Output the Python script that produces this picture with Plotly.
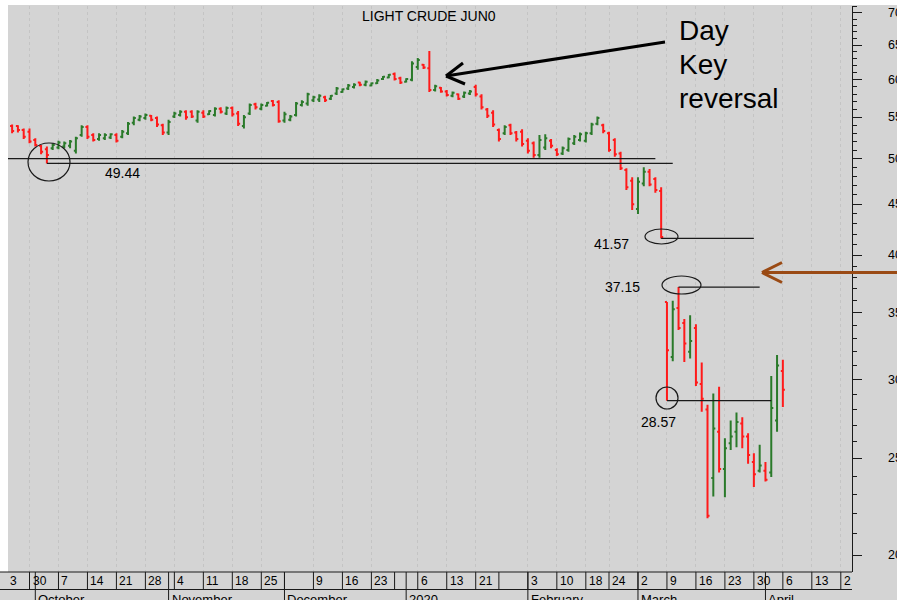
import math
import pandas as pd
import plotly.graph_objects as go

# ---------------- data ----------------
TITLE = "LIGHT CRUDE JUN0"
HOLIDAYS = ["2019-11-28", "2019-12-25", "2020-01-01", "2020-01-20", "2020-02-17"]
CAL_START, CAL_END = "2019-09-23", "2020-04-24"
FIRST_BAR, LAST_BAR = "2019-09-25", "2020-04-06"

OPEN = [53.9, 53.9, 53.4, 53.2, 52.2, 51.5, 51.1, 51.2, 51.3, 51.4, 51.5, 50.9, 52.8, 53.8,
        52.8, 52.3, 52.4, 52.5, 52.8, 52.6, 53.0, 54.3, 54.7, 54.9, 55.2, 54.9, 54.0, 53.1,
        55.1, 55.3, 55.7, 55.7, 54.6, 55.6, 55.4, 55.3, 56.1, 55.5, 56.2, 55.5, 53.9, 55.5,
        56.7, 56.1, 56.5, 57.1, 57.0, 54.6, 54.7, 55.3, 56.6, 56.8, 57.2, 57.3, 57.6, 57.4,
        58.1, 58.3, 58.8, 59.0, 59.6, 59.3, 59.2, 59.5, 60.1, 60.3, 60.8, 60.2, 59.7, 60.0,
        61.8, 62.1, 61.6, 58.6, 58.9, 58.4, 57.8, 58.0, 57.7, 58.1, 59.0, 57.7, 56.0, 55.6,
        53.4, 53.0, 54.0, 53.1, 53.2, 52.1, 51.8, 50.4, 51.3, 52.1, 51.0, 50.6, 51.0, 51.8,
        52.2, 52.1, 53.0, 54.2, 54.0, 53.0, 52.2, 50.6, 48.7, 47.5, 44.5, 47.2, 48.5, 47.7,
        46.4, 35.9, 31.6, 35.4, 34.2, 32.0, 33.8, 29.7, 28.0, 23.9, 26.6, 24.4, 25.9, 26.6,
        27.1, 26.3, 24.8, 24.3, 24.3, 24.2, 27.3, 30.6]
HIGH = [54.1, 54.0, 53.6, 53.6, 52.4, 51.6, 51.4, 51.8, 52.1, 52.0, 52.2, 52.6, 54.0, 54.0,
        53.0, 53.0, 53.0, 53.0, 53.0, 53.4, 54.4, 55.1, 55.3, 55.5, 55.3, 55.1, 54.2, 54.7,
        55.7, 55.9, 55.9, 55.9, 55.9, 55.9, 55.9, 56.3, 56.3, 56.4, 56.4, 55.8, 55.3, 56.8,
        56.9, 56.8, 57.0, 57.25, 57.2, 55.7, 55.3, 57.0, 57.2, 58.2, 57.8, 58.0, 57.8, 57.9,
        59.0, 58.8, 59.4, 59.5, 59.7, 59.9, 59.6, 60.1, 60.5, 60.8, 61.0, 60.4, 60.2, 62.6,
        63.1, 62.2, 64.1, 59.3, 59.0, 58.6, 58.4, 58.1, 58.4, 58.6, 59.3, 58.0, 56.2, 55.9,
        53.6, 54.0, 54.2, 53.3, 53.5, 52.4, 52.0, 52.8, 52.9, 52.3, 51.2, 51.4, 52.5, 52.8,
        53.1, 53.2, 54.3, 55.1, 54.2, 53.2, 52.4, 50.8, 48.9, 47.9, 47.9, 49.0, 48.8, 47.9,
        46.8, 35.9, 36.0, 37.15, 34.5, 34.8, 34.1, 31.2, 28.3, 29.05, 29.5, 26.2, 27.3, 27.8,
        27.5, 26.5, 25.3, 25.8, 24.8, 30.25, 31.75, 31.4]
LOW = [53.0, 53.1, 52.3, 51.8, 51.4, 50.5, 49.44, 51.0, 51.1, 51.2, 51.2, 50.6, 52.6, 52.3,
       52.0, 52.1, 52.2, 52.3, 51.9, 52.4, 52.8, 54.0, 54.5, 54.7, 54.5, 53.8, 52.8, 52.8,
       54.9, 55.1, 54.7, 54.9, 54.3, 54.9, 55.3, 55.1, 55.5, 55.3, 55.1, 53.9, 53.6, 55.3,
       56.0, 55.9, 56.4, 56.4, 54.3, 54.3, 54.5, 55.1, 56.4, 56.5, 57.0, 57.0, 57.0, 57.25,
       57.9, 58.2, 58.6, 58.8, 59.1, 59.1, 59.1, 59.4, 59.96, 60.2, 59.9, 59.4, 59.6, 59.8,
       61.4, 61.5, 58.3, 58.4, 58.2, 57.7, 57.6, 57.25, 57.5, 57.9, 57.7, 56.0, 54.9, 53.8,
       52.0, 52.8, 52.8, 52.0, 51.4, 50.6, 50.1, 50.1, 51.0, 51.2, 50.3, 50.4, 50.8, 51.6,
       52.0, 51.9, 52.8, 54.0, 53.0, 50.8, 50.2, 48.7, 46.5, 44.4, 44.0, 46.9, 46.9, 46.2,
       41.57, 28.57, 31.3, 33.64, 31.25, 31.5, 29.55, 27.85, 21.77, 22.9, 24.2, 22.85, 25.5, 25.65,
       25.6, 24.7, 23.4, 24.2, 23.7, 23.95, 26.6, 28.15]
CLOSE = [53.3, 53.4, 52.6, 52.0, 51.6, 50.8, 50.4, 51.6, 51.9, 51.8, 52.0, 52.4, 53.8, 52.6,
         52.2, 52.8, 52.8, 52.9, 52.1, 53.2, 54.2, 54.9, 55.1, 55.3, 54.7, 54.1, 53.1, 54.4,
         55.5, 55.7, 55.0, 55.1, 55.7, 55.1, 55.8, 56.1, 55.7, 56.2, 55.4, 54.2, 55.0, 56.6,
         56.3, 56.6, 56.9, 56.6, 54.5, 55.4, 55.1, 56.8, 57.0, 58.0, 57.6, 57.8, 57.2, 57.8,
         58.8, 58.7, 59.2, 59.3, 59.3, 59.7, 59.5, 59.9, 60.4, 60.7, 60.1, 59.6, 60.1, 62.3,
         62.8, 61.7, 58.6, 59.1, 58.4, 57.9, 58.2, 57.4, 58.2, 58.4, 58.0, 56.3, 55.2, 54.1,
         52.3, 53.8, 53.0, 52.3, 51.7, 50.9, 50.4, 52.2, 52.4, 51.5, 50.5, 51.2, 52.3, 52.6,
         52.9, 53.0, 54.1, 54.9, 53.3, 51.0, 50.5, 48.9, 46.8, 45.0, 47.4, 48.5, 47.1, 46.5,
         41.7, 32.1, 35.3, 33.8, 32.6, 32.8, 29.8, 28.7, 21.9, 26.8, 24.4, 25.6, 26.3, 27.2,
         26.3, 25.2, 24.1, 24.6, 23.8, 28.1, 31.0, 29.3]

# marked price levels: (value, start date, end date)
SUPPORT = (50.0, "2019-09-23", "2020-03-05")
LEVELS = [(49.44, "2019-10-03", "2020-03-10"),
          (41.57, "2020-03-06", "2020-03-30"),
          (37.15, "2020-03-11", "2020-03-31"),
          (28.57, "2020-03-09", "2020-04-02")]

Y_TICKS = [20, 25, 30, 35, 40, 45, 50, 55, 60, 65, 70]

WEEK_DATES = ["2019-09-23", "2019-09-30", "2019-10-07", "2019-10-14", "2019-10-21", "2019-10-28",
              "2019-11-04", "2019-11-11", "2019-11-18", "2019-11-25", "2019-12-02", "2019-12-09",
              "2019-12-16", "2019-12-23", "2019-12-30", "2020-01-06", "2020-01-13", "2020-01-21",
              "2020-01-27", "2020-02-03", "2020-02-10", "2020-02-18", "2020-02-24", "2020-03-02",
              "2020-03-09", "2020-03-16", "2020-03-23", "2020-03-30", "2020-04-06", "2020-04-13",
              "2020-04-20"]
WEEK_LABELS = ["3", "30", "7", "14", "21", "28", "4", "11", "18", "25", "", "9", "16", "23", "",
               "6", "13", "21", "", "3", "10", "18", "24", "2", "9", "16", "23", "30", "6", "13", "2"]
MONTH_DATES = ["2019-10-01", "2019-11-01", "2019-12-02", "2020-01-02", "2020-02-03",
               "2020-03-02", "2020-04-01"]
MONTH_LABELS = ["October", "November", "December", "2020", "February", "March", "April"]

# ---------------- styling ----------------
FONT = "Liberation Sans, Arial, sans-serif"
BG = "#d4d4d4"
GREEN = "#2a7a2a"
RED = "#ff1a1a"
BROWN = "#9a4a14"
INK = "#1a1a1a"

FIG_W, FIG_H = 897, 600
PL, PT, PR, PB = 8, 6, 852, 572   # plot area in pixels


def px_x(x):
    return (x - PL) / (PR - PL)


def px_y(y):
    return (PB - y) / (PB - PT)


calendar = pd.bdate_range(CAL_START, CAL_END, freq="C", holidays=HOLIDAYS)


def pos(d):
    return int(calendar.get_loc(pd.Timestamp(d)))


bar_dates = calendar[pos(FIRST_BAR):pos(LAST_BAR) + 1]
xpos = [pos(d) for d in bar_dates]

x_lo = 5 + (PL - 29.5) / 5.795
x_hi = 5 + (PR - 29.5) / 5.795

fig = go.Figure()
fig.add_trace(go.Ohlc(
    x=xpos, open=OPEN, high=HIGH, low=LOW, close=CLOSE,
    increasing=dict(line=dict(color=GREEN, width=2)),
    decreasing=dict(line=dict(color=RED, width=2)),
    tickwidth=0.35, showlegend=False, hoverinfo="skip"))

# horizontal level lines
for val, d0, d1 in [SUPPORT] + LEVELS:
    fig.add_trace(go.Scatter(x=[pos(d0), pos(d1)], y=[val, val], mode="lines",
                             line=dict(color=INK, width=1.3), showlegend=False,
                             hoverinfo="skip"))

shapes = []
annotations = []

# white margin strips (left and top)
shapes.append(dict(type="rect", xref="paper", yref="paper", x0=px_x(0), x1=px_x(PL),
                   y0=px_y(PB), y1=px_y(0), fillcolor="white", line=dict(width=0), layer="below"))
shapes.append(dict(type="rect", xref="paper", yref="paper", x0=px_x(0), x1=px_x(FIG_W),
                   y0=px_y(PT - 1), y1=px_y(0), fillcolor="white", line=dict(width=0),
                   layer="below"))

# price axis labels (right side, partly beyond the page edge as in the original)
for v in Y_TICKS:
    annotations.append(dict(x=px_x(886), xref="paper", y=math.log10(v), yref="y", text=str(v),
                            xanchor="left", yanchor="middle", showarrow=False,
                            font=dict(family=FONT, size=12.5, color="black")))

# date box lines
for yy in (PB, 589.5):
    shapes.append(dict(type="line", xref="paper", yref="paper", x0=px_x(0), x1=1,
                       y0=px_y(yy), y1=px_y(yy), line=dict(color=INK, width=1)))
week_font = dict(family=FONT, size=12, color="black")
for d, lab in zip(WEEK_DATES, WEEK_LABELS):
    p = pos(d)
    shapes.append(dict(type="line", xref="x", yref="paper", x0=p, x1=p,
                       y0=px_y(PB), y1=px_y(589.5), line=dict(color=INK, width=1)))
    if not lab:
        continue
    if x_lo <= p <= x_hi:
        annotations.append(dict(x=p, xref="x", y=px_y(580.5), yref="paper", text=lab,
                                xanchor="left", yanchor="middle", xshift=1, showarrow=False,
                                font=week_font))
    else:  # week that starts left of the visible window: only its tail shows
        annotations.append(dict(x=px_x(8), xref="paper", y=px_y(580.5), yref="paper", text=lab,
                                xanchor="left", yanchor="middle", showarrow=False,
                                font=week_font))
for d, lab in zip(MONTH_DATES, MONTH_LABELS):
    p = pos(d)
    shapes.append(dict(type="line", xref="x", yref="paper", x0=p, x1=p,
                       y0=px_y(PB), y1=px_y(FIG_H), line=dict(color=INK, width=1)))
    annotations.append(dict(x=p, xref="x", y=px_y(599.5), yref="paper", text=lab,
                            xanchor="left", yanchor="middle", xshift=1, showarrow=False,
                            font=dict(family=FONT, size=13, color="black")))

# ellipses around the marked prices (pixel boxes)
for (x0, y0, x1, y1) in [(28, 143, 70, 181), (645, 229, 678, 244),
                         (662, 276, 701, 294), (656, 387, 678, 409)]:
    shapes.append(dict(type="circle", xref="paper", yref="paper",
                       x0=px_x(x0), x1=px_x(x1), y0=px_y(y1), y1=px_y(y0),
                       line=dict(color=INK, width=1.2)))


# arrows drawn as open V heads
def seg(xa, ya, xb, yb, color, width):
    shapes.append(dict(type="line", xref="paper", yref="paper",
                       x0=px_x(xa), y0=px_y(ya), x1=px_x(xb), y1=px_y(yb),
                       line=dict(color=color, width=width)))


seg(446, 76, 665, 42, "black", 3)
seg(446, 76, 463, 63, "black", 3)
seg(446, 76, 465, 84, "black", 3)
seg(762, 272.5, 900, 272.5, BROWN, 3)
seg(762, 272.5, 782, 262.5, BROWN, 3)
seg(762, 272.5, 782, 282.5, BROWN, 3)

# level value labels
label_place = {49.44: ("center", 0, -10), 41.57: ("right", -30, -6),
               37.15: ("right", -37, 0), 28.57: ("center", -8, -21)}
label_anchor = {49.44: "2019-10-22", 41.57: "2020-03-06", 37.15: "2020-03-11",
                28.57: "2020-03-09"}
for val, d0, d1 in LEVELS:
    xa, xs, ys = label_place[val]
    annotations.append(dict(x=pos(label_anchor[val]), xref="x", y=math.log10(val), yref="y",
                            text=f"{val:.2f}", xanchor=xa, yanchor="middle", xshift=xs,
                            yshift=ys, showarrow=False,
                            font=dict(family=FONT, size=14, color="black")))

# title and comment text
annotations.append(dict(x=px_x(429), y=px_y(16), xref="paper", yref="paper", text=TITLE,
                        showarrow=False, xanchor="center", yanchor="middle",
                        font=dict(family=FONT, size=14, color="black")))
for txt, yy in (("Day", 31), ("Key", 65), ("reversal", 98)):
    annotations.append(dict(x=px_x(677), y=px_y(yy), xref="paper", yref="paper", text=txt,
                            showarrow=False, xanchor="left", yanchor="middle",
                            font=dict(family=FONT, size=28, color="black")))

grid_vals = [pos(d) for d, lab in zip(WEEK_DATES, WEEK_LABELS) if lab]

fig.update_layout(
    template="none",
    width=FIG_W, height=FIG_H, autosize=False,
    margin=dict(l=PL, r=FIG_W - PR, t=PT, b=FIG_H - PB, pad=0),
    paper_bgcolor=BG, plot_bgcolor=BG,
    showlegend=False, hovermode=False,
    shapes=shapes, annotations=annotations,
    xaxis=dict(type="linear", range=[x_lo, x_hi], tickvals=grid_vals, showticklabels=False,
               ticks="", showgrid=True, gridcolor="#c4c4c4", griddash="dot", gridwidth=1,
               zeroline=False, showline=False, automargin=False,
               rangeslider=dict(visible=False), fixedrange=True),
    yaxis=dict(type="log", side="right",
               range=[math.log10(19.23), math.log10(71.14)],
               tickmode="array", tickvals=Y_TICKS, showticklabels=False,
               ticks="outside", ticklen=9, tickwidth=1, tickcolor=INK,
               minor=dict(tickmode="array",
                          tickvals=[v for v in range(19, 72) if v % 5],
                          ticks="outside", ticklen=4, tickwidth=1, tickcolor=INK,
                          showgrid=False),
               showline=True, linecolor=INK, linewidth=1, showgrid=False, zeroline=False,
               automargin=False, fixedrange=True),
)

fig.write_html("out.html", config={"displayModeBar": False, "staticPlot": True},
               post_script="document.body.style.margin='0';document.body.style.padding='0';")
